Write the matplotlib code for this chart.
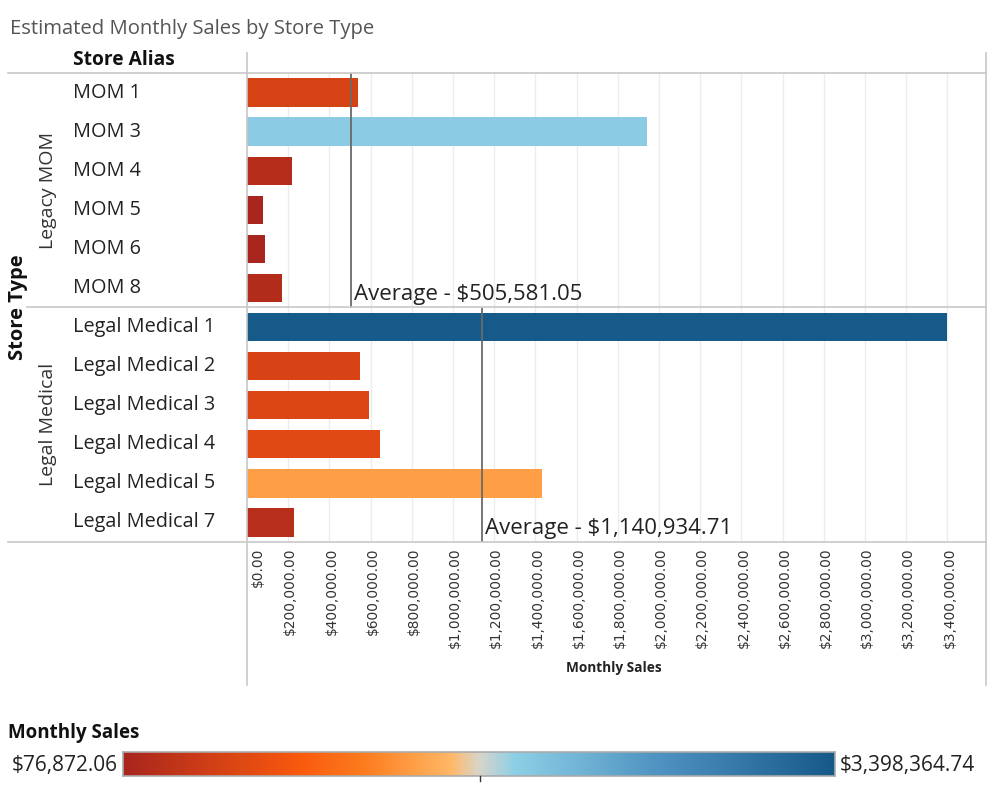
import numpy as np
import matplotlib
matplotlib.use("Agg")
import matplotlib.pyplot as plt
from matplotlib.colors import LinearSegmentedColormap, Normalize
from matplotlib.lines import Line2D
from matplotlib.transforms import blended_transform_factory, ScaledTranslation

# data
store_types = ["Legacy MOM", "Legal Medical"]
mom_stores = ["MOM 1", "MOM 3", "MOM 4", "MOM 5", "MOM 6", "MOM 8"]
mom_sales = [538000.00, 1943614.24, 218000.00, 76872.06, 87000.00, 170000.00]
lm_stores = ["Legal Medical 1", "Legal Medical 2", "Legal Medical 3",
             "Legal Medical 4", "Legal Medical 5", "Legal Medical 7"]
lm_sales = [3398364.74, 549000.00, 593000.00, 646000.00, 1430243.52, 229000.00]

W, H = 991, 792
plt.rcParams["font.family"] = ["Open Sans", "DejaVu Sans"]
fig = plt.figure(figsize=(W / 100, H / 100), dpi=100)


def fx(x):
    return x / W


def fy(y):
    return 1 - y / H


# Tableau-like orange-blue diverging ramp
cmap = LinearSegmentedColormap.from_list("ob", [
    (0.0, "#a9261e"), (0.25, "#fa5a0e"), (0.34, "#fd7d1f"), (0.46, "#ffb866"),
    (0.50, "#d9d5c9"), (0.55, "#8ecfe6"), (0.75, "#4f94c2"), (1.0, "#165a8a")])
all_sales = np.array(mom_sales + lm_sales)
norm = Normalize(all_sales.min(), all_sales.max())

labels = mom_stores + lm_stores
ypos = np.arange(len(labels))

ax = fig.add_axes([fx(247), fy(542), fx(986 - 247), (542 - 73) / H])
ax.barh(ypos, all_sales, height=0.725, color=cmap(norm(all_sales)), zorder=2)
ax.set_ylim(len(labels) - 0.5, -0.5)
ax.set_xlim(0, 3.587e6)
ticks = np.arange(0, 3.4e6 + 1, 2e5)
ax.set_xticks(ticks)
ax.set_xticklabels([f"${t:,.2f}" for t in ticks], rotation=90,
                   fontsize=9.9, color="#333333", family="DejaVu Sans")
ax.set_yticks([])
ax.tick_params(axis="x", length=0, pad=4)
ax.grid(axis="x", color="#ececec", lw=1, zorder=0)
for s in ax.spines.values():
    s.set_visible(False)
for i, lab in enumerate(ax.get_xticklabels()):
    dx = 11 if i == 0 else 2
    lab.set_transform(lab.get_transform() + ScaledTranslation(dx / 100, 0, fig.dpi_scale_trans))

# averages per store type
groups = [(mom_sales, 0, len(mom_sales)), (lm_sales, len(mom_sales), len(labels))]
for vals, lo, hi in groups:
    avg = np.mean(vals)
    ax.vlines(avg, lo - 0.5, hi - 0.5, color="#6a6a6a", lw=1.3, zorder=3)
    ax.annotate(f"Average - ${avg:,.2f}", xy=(avg, hi - 0.5), xytext=(3, 3),
                textcoords="offset pixels", ha="left", va="bottom",
                fontsize=16, color="#222222")

# row labels and headers
tr = blended_transform_factory(fig.transFigure, ax.transData)
for y, lab in zip(ypos, labels):
    fig.text(fx(73), y, lab, transform=tr, ha="left", va="center",
             fontsize=14.3, color="#222222")
fig.text(fx(48), 2.5, store_types[0], transform=tr, rotation=90,
         ha="center", va="center", fontsize=14, color="#333333")
fig.text(fx(48), 8.5, store_types[1], transform=tr, rotation=90,
         ha="center", va="center", fontsize=14, color="#333333")
fig.text(fx(18), 5.5, "Store Type", transform=tr, rotation=90,
         ha="center", va="center", fontsize=14.5, weight="bold", color="#111111")
fig.text(fx(73), fy(60), "Store Alias", ha="left", va="center",
         fontsize=13.8, weight="bold", color="#111111")
fig.text(fx(10), fy(29), "Estimated Monthly Sales by Store Type", ha="left",
         va="center", fontsize=14.6, color="#555555")
fig.text(fx(614), fy(668), "Monthly Sales", ha="center", va="center",
         fontsize=9.8, weight="bold", color="#222222")

# frame lines
lc = "#c8c8c8"
for x0, x1, y in [(8, 986, 73), (27, 986, 307), (8, 986, 542)]:
    fig.add_artist(Line2D([fx(x0), fx(x1)], [fy(y), fy(y)], color=lc, lw=1.2))
for x in (247, 986):
    fig.add_artist(Line2D([fx(x), fx(x)], [fy(53), fy(685)], color=lc, lw=1.2))

# color legend
fig.text(fx(8), fy(733), "Monthly Sales", ha="left", va="center",
         fontsize=13.5, weight="bold", color="#111111")
cax = fig.add_axes([fx(123), fy(776), fx(835 - 123), 24 / H])
cax.imshow(np.linspace(0, 1, 512)[None, :], cmap=cmap, aspect="auto",
           extent=(0, 1, 0, 1))
cax.set_xticks([])
cax.set_yticks([])
for s in cax.spines.values():
    s.set_color("#aaaaaa")
    s.set_linewidth(1.2)
fig.add_artist(Line2D([fx(480), fx(480)], [fy(776), fy(781)], color="#333333", lw=1))
fig.text(fx(118), fy(765), f"${all_sales.min():,.2f}", ha="right", va="center",
         fontsize=15, color="#222222")
fig.text(fx(840), fy(765), f"${all_sales.max():,.2f}", ha="left", va="center",
         fontsize=15, color="#222222")

fig.savefig("out.png", dpi=100)
